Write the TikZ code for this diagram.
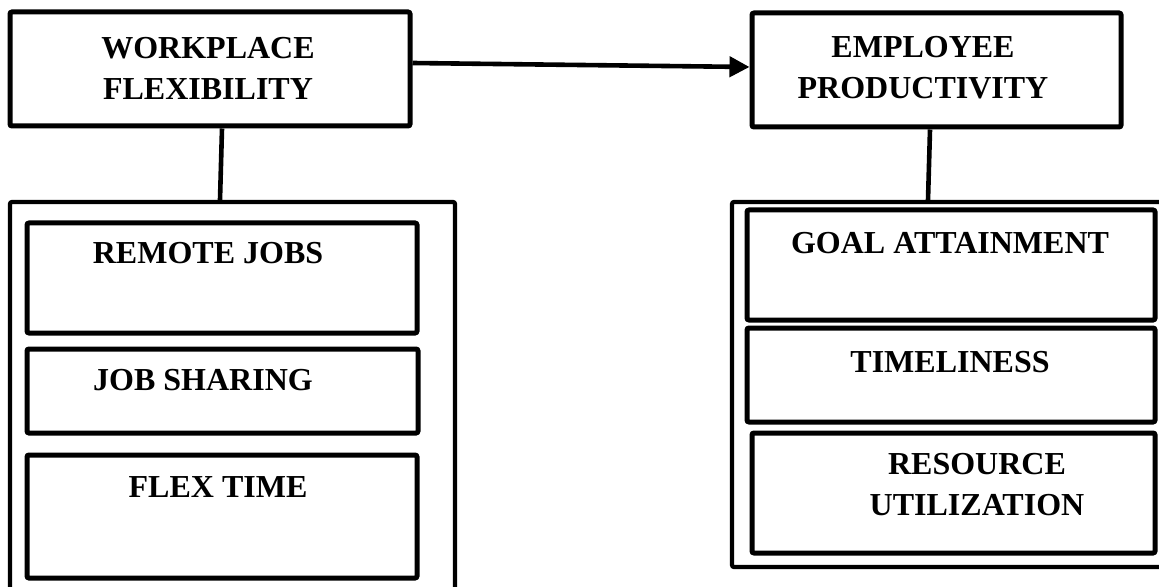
\documentclass[tikz,border=0pt]{standalone}
\usepackage{fontspec}
\setmainfont{Liberation Serif}
\usetikzlibrary{arrows.meta}

\begin{document}
\begin{tikzpicture}[x=0.5pt, y=-0.5pt,
  box/.style={draw, line width=2.5pt, rounded corners=1pt, inner sep=0pt},
  grp/.style={draw, line width=2.1pt, rounded corners=1pt, inner sep=0pt},
  txt/.style={font=\bfseries\fontsize{16}{20.5}\selectfont, align=center, inner sep=0pt},
  link/.style={line width=2.3pt}]
  \useasboundingbox (0,0) rectangle (1159,587);
  \clip (0,0) rectangle (1159,587);
  % top boxes
  \node[box, minimum width=200pt, minimum height=57pt] (wf) at (210,69) {};
  \node[box, minimum width=184.5pt, minimum height=57pt] (ep) at (936.5,70) {};
  \node[txt] (wft) at (208,68) {WORKPLACE\\FLEXIBILITY};
  \node[txt] (ept) at (923,68) {EMPLOYEE\\PRODUCTIVITY};
  % groups
  \node[grp, minimum width=222.5pt, minimum height=209pt] (wfgrp) at (232.5,411) {};
  \node[grp, minimum width=221.5pt, minimum height=182.5pt] (epgrp) at (953.5,384.5) {};
  % left items
  \node[box, minimum width=195pt, minimum height=55pt] (remote) at (222,278) {};
  \node[box, minimum width=195.5pt, minimum height=42pt] (share) at (222.5,391) {};
  \node[box, minimum width=195pt, minimum height=61.5pt] (flex) at (222,516.5) {};
  \node[txt] (remotet) at (208,253) {REMOTE JOBS};
  \node[txt] (sharet) at (203,380) {JOB SHARING};
  \node[txt] (flext) at (218,487) {FLEX TIME};
  % right items
  \node[box, minimum width=204pt, minimum height=55pt] (goal) at (951,265) {};
  \node[box, minimum width=204pt, minimum height=47pt] (time) at (951,375) {};
  \node[box, minimum width=201.5pt, minimum height=60pt] (res) at (953.5,493) {};
  \node[txt] (goalt) at (950,243) {GOAL ATTAINMENT};
  \node[txt] (timet) at (950,362) {TIMELINESS};
  \node[txt] (rest) at (977,485) {RESOURCE\\UTILIZATION};
  % connectors
  \draw[link, -{Triangle[length=10pt,width=10pt]}] ([yshift=3pt]wf.east) -- ([yshift=1.5pt]ep.west);
  \draw[link] ([xshift=6pt]wf.south) -- ([xshift=-6.25pt]wfgrp.north);
  \draw[link] ([xshift=-3.25pt]ep.south) -- ([xshift=-12.75pt]epgrp.north);
\end{tikzpicture}
\end{document}
